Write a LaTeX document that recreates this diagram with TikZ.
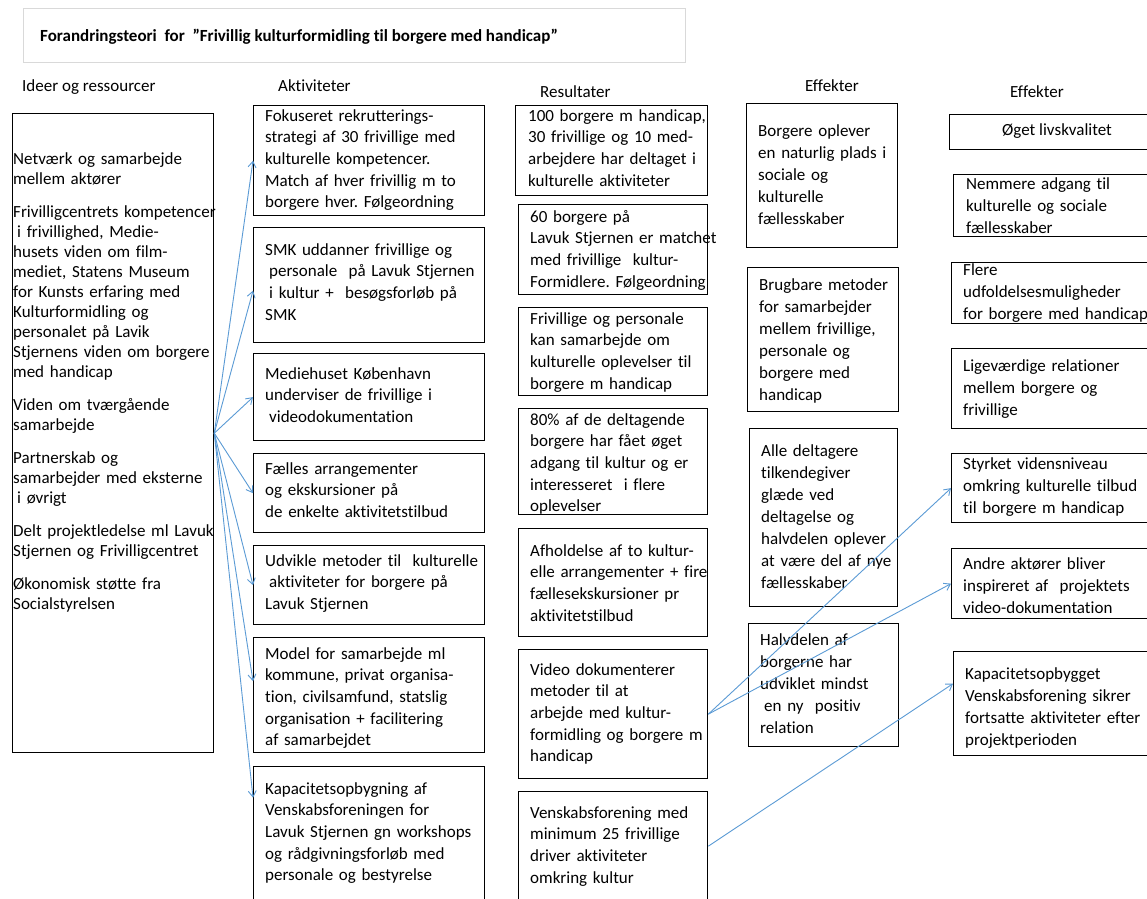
\documentclass[tikz,border=0pt]{standalone}
\usepackage{fontspec}
\setmainfont{Carlito}[Ligatures=NoCommon]
\usetikzlibrary{arrows.meta}
\definecolor{arrowblue}{HTML}{5B9BD5}
\definecolor{titlegray}{HTML}{D9D9D9}
\frenchspacing
\begin{document}
\begin{tikzpicture}[x=1pt,y=-1pt,
  box/.style={draw=black, line width=1.3pt, rectangle, inner sep=0pt, anchor=north west},
  txt/.style={anchor=base west, inner sep=0pt, text width=260pt, align=left, font=\fontsize{17}{21.7}\selectfont},
  etxt/.style={txt, font=\fontsize{17}{22}\selectfont},
  lefttxt/.style={txt, font=\fontsize{17}{20}\selectfont},
  hdr/.style={anchor=base west, inner sep=0pt, font=\fontsize{17}{20}\selectfont},
  conn/.style={draw=arrowblue, line width=0.9pt, -{Straight Barb[length=6pt,width=8pt]}},
]
\useasboundingbox (0,0) rectangle (1147,898);
\fill[white] (0,0) rectangle (1147,898);
\clip (0,0) rectangle (1147,898);

% title
\node[draw=titlegray, line width=0.8pt, minimum width=662pt, minimum height=54pt, anchor=north west, inner sep=0pt] (titlebox) at (23,8) {};
\node[anchor=base west, inner sep=0pt, font=\fontsize{17}{20}\selectfont\bfseries] (title) at (40,41) {Forandringsteori\ \ for\ \ ”Frivillig kulturformidling til borgere med handicap”};

% headers
\node[hdr] (h1) at (22,91) {Ideer og ressourcer};
\node[hdr] (h2) at (278,91) {Aktiviteter};
\node[hdr] (h3) at (540,97) {Resultater};
\node[hdr] (h4) at (805,91) {Effekter};
\node[hdr] (h5) at (1010,97) {Effekter};

% left box
\node[box, minimum width=201pt, minimum height=639pt] (ideer) at (12,113) {};
\node[lefttxt] (ideert) at (13,164) {Netværk og samarbejde\\
mellem aktører\\[13pt]
Frivilligcentrets kompetencer\\
\hspace*{4pt}i frivillighed, Medie-\\
husets viden om film-\\
mediet, Statens Museum\\
for Kunsts erfaring med\\
Kulturformidling og\\
personalet på Lavik\\
Stjernens viden om borgere\\
med handicap\\[13pt]
Viden om tværgående\\
samarbejde\\[13pt]
Partnerskab og\\
samarbejder med eksterne\\
\hspace*{4pt}i øvrigt\\[13pt]
Delt projektledelse ml Lavuk\\
Stjernen og Frivilligcentret\\[13pt]
Økonomisk støtte fra\\
Socialstyrelsen};

% activities
\node[box, minimum width=231pt, minimum height=110pt] (a1) at (253,105) {};
\node[box, minimum width=231pt, minimum height=115pt] (a2) at (253,227) {};
\node[box, minimum width=231pt, minimum height=87pt] (a3) at (253,353) {};
\node[box, minimum width=231pt, minimum height=79pt] (a4) at (253,453) {};
\node[box, minimum width=231pt, minimum height=79pt] (a5) at (253,545) {};
\node[box, minimum width=231pt, minimum height=115pt] (a6) at (253,637) {};
\node[box, minimum width=231pt, minimum height=134pt] (a7) at (253,766) {};
\node[txt] (a1t) at (265,121) {Fokuseret rekrutterings-\\strategi af 30 frivillige med\\kulturelle kompetencer.\\Match af hver frivillig m to\\borgere hver. Følgeordning};
\node[txt] (a2t) at (265,255) {SMK uddanner frivillige og\\\hspace*{4pt}personale\ \ på Lavuk Stjernen\\\hspace*{4pt}i kultur +\ \ besøgsforløb på\\SMK};
\node[txt] (a3t) at (265,379) {Mediehuset København\\underviser de frivillige i\\\hspace*{4pt}videodokumentation};
\node[txt] (a4t) at (265,474) {Fælles arrangementer\\og ekskursioner på\\de enkelte aktivitetstilbud};
\node[txt] (a5t) at (265,566) {Udvikle metoder til\ \ kulturelle\\\hspace*{4pt}aktiviteter for borgere på\\Lavuk Stjernen};
\node[txt] (a6t) at (265,659) {Model for samarbejde ml\\kommune, privat organisa-\\tion, civilsamfund, statslig\\organisation + facilitering\\af samarbejdet};
\node[txt] (a7t) at (265,794) {Kapacitetsopbygning af\\Venskabsforeningen for\\Lavuk Stjernen gn workshops\\og rådgivningsforløb med\\personale og bestyrelse};

% results
\node[box, minimum width=192pt, minimum height=90pt] (r1) at (515,105) {};
\node[box, minimum width=189pt, minimum height=90pt] (r2) at (518,204) {};
\node[box, minimum width=189pt, minimum height=88pt] (r3) at (518,307) {};
\node[box, minimum width=189pt, minimum height=106pt] (r4) at (518,408) {};
\node[box, minimum width=189pt, minimum height=108pt] (r5) at (518,528) {};
\node[box, minimum width=189pt, minimum height=129pt] (r6) at (518,649) {};
\node[box, minimum width=189pt, minimum height=109pt] (r7) at (518,791) {};
\node[txt] (r1t) at (528,121) {100 borgere\ m handicap,\\30 frivillige og 10 med-\\arbejdere\ har deltaget i\\kulturelle aktiviteter};
\node[txt] (r2t) at (530,222) {60 borgere på\\Lavuk Stjernen er\ matchet\\med frivillige\ \ kultur-\\Formidlere. Følgeordning};
\node[txt] (r3t) at (530,324) {Frivillige og personale\\kan samarbejde om\\kulturelle oplevelser til\\borgere\ m handicap};
\node[txt] (r4t) at (530,425) {80\% af de deltagende\\borgere har fået øget\\adgang til kultur og er\\interesseret\ \ i flere\\oplevelser};
\node[txt] (r5t) at (530,556) {Afholdelse af to kultur-\\elle arrangementer + fire\\fællesekskursioner pr\\aktivitetstilbud};
\node[txt] (r6t) at (530,675) {Video dokumenterer\\metoder til at\\arbejde\ med kultur-\\formidling og borgere m\\handicap};
\node[txt] (r7t) at (530,818) {Venskabsforening med\\minimum 25 frivillige\\driver aktiviteter\\omkring kultur};

% effects 1
\node[box, minimum width=151pt, minimum height=144pt] (e1) at (746,103) {};
\node[box, minimum width=151pt, minimum height=144pt] (e2) at (747,267) {};
\node[box, minimum width=148pt, minimum height=178pt] (e3) at (749,428) {};
\node[box, minimum width=150pt, minimum height=123pt] (e4) at (748,623) {};
\node[etxt] (e1t) at (758,136) {Borgere oplever\\en naturlig plads i\\sociale og\\kulturelle\\fællesskaber};
\node[etxt] (e2t) at (759,290) {Brugbare\ metoder\\for samarbejder\\mellem frivillige,\\personale og\\borgere med\\handicap};
\node[etxt] (e3t) at (761,456) {Alle deltagere\\tilkendegiver\\glæde ved\\deltagelse og\\halvdelen oplever\\at være del af nye\\fællesskaber};
\node[etxt] (e4t) at (760,645) {Halvdelen af\\borgerne har\\udviklet mindst\\\hspace*{4pt}en ny\ \ positiv\\relation};

% effects 2
\node[box, minimum width=202pt, minimum height=35pt] (o1) at (949,114) {};
\node[box, minimum width=198pt, minimum height=62pt] (o2) at (953,174) {};
\node[box, minimum width=200pt, minimum height=61pt] (o3) at (951,262) {};
\node[box, minimum width=200pt, minimum height=80pt] (o4) at (951,348) {};
\node[box, minimum width=200pt, minimum height=69pt] (o5) at (951,453) {};
\node[box, minimum width=200pt, minimum height=70pt] (o6) at (951,548) {};
\node[box, minimum width=198pt, minimum height=104pt] (o7) at (953,651) {};
\node[inner sep=0pt, font=\fontsize{17}{20}\selectfont] (o1t) at (1057,131.5) {Øget livskvalitet};
\node[etxt] (o2t) at (966,189) {Nemmere adgang til\\kulturelle og sociale\\fællesskaber};
\node[etxt] (o3t) at (963,275) {Flere\\udfoldelsesmuligheder\\for borgere med handicap};
\node[etxt] (o4t) at (963,371) {Ligeværdige relationer\\mellem borgere og\\frivillige};
\node[etxt] (o5t) at (963,469) {Styrket vidensniveau\\omkring kulturelle tilbud\\til borgere\ m handicap};
\node[etxt] (o6t) at (963,569) {Andre aktører bliver\\inspireret af\ \ projektets\\video-dokumentation};
\node[etxt] (o7t) at (965,679) {Kapacitetsopbygget\\Venskabsforening sikrer\\fortsatte aktiviteter efter\\projektperioden};

% connectors
\draw[conn] (ideer.east) -- (a1.west);
\draw[conn] (ideer.east) -- ([yshift=-5.5pt]a2.west);
\draw[conn] (ideer.east) -- (a3.west);
\draw[conn] (ideer.east) -- (a4.west);
\draw[conn] (ideer.east) -- (a5.west);
\draw[conn] (ideer.east) -- ([yshift=14pt]a6.west);
\draw[conn] (ideer.east) -- ([yshift=36pt]a7.west);
\draw[conn] (r6.east) -- (o5.west);
\draw[conn] (r6.east) -- (o6.west);
\draw[conn] (r7.east) -- ([yshift=20pt]o7.west);
\end{tikzpicture}
\end{document}
